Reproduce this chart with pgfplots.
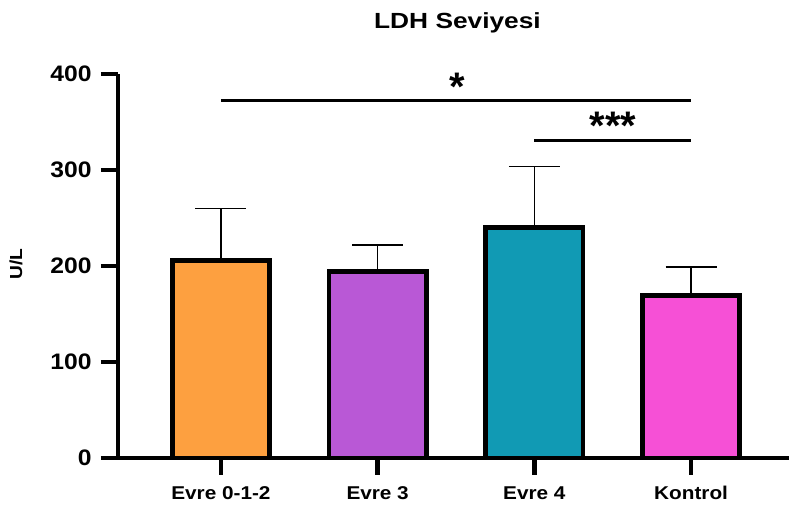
\documentclass[border=0pt]{standalone}
\usepackage{fontspec}
\setmainfont{Liberation Sans}
\newfontfamily\widefont{Liberation Sans}[FakeStretch=1.1]
\newfontfamily\titlefont{Liberation Sans}[FakeStretch=1.2]
\newfontfamily\ylabfont{Liberation Sans}[FakeStretch=1.1]
\newfontfamily\labfont{Liberation Sans}[FakeStretch=1.12]
\usepackage{pgfplots}
\pgfplotsset{compat=1.18}
\definecolor{cOrange}{RGB}{253,160,64}
\definecolor{cPurple}{RGB}{185,88,214}
\definecolor{cTeal}{RGB}{17,154,180}
\definecolor{cPink}{RGB}{246,80,214}
\begin{document}
\begin{tikzpicture}[x=1bp,y=1bp]
\useasboundingbox (-118,-53) rectangle (671,458);
\begin{axis}[
  at={(0,0)}, anchor=south west,
  scale only axis, width=671bp, height=384bp,
  xmin=-0.657, xmax=3.625, ymin=0, ymax=400,
  axis x line*=bottom, axis y line*=left,
  axis line style={line width=4bp, black},
  ytick={0,100,200,300,400},
  xtick={0,1,2,3},
  xticklabels={Evre 0-1-2, Evre 3, Evre 4, Kontrol},
  tick align=outside,
  major tick length=17bp,
  tick style={line width=4.5bp, black},
  /pgf/number format/assume math mode=true,
  yticklabel style={font=\widefont\fontsize{22.5}{22.5}\selectfont\bfseries, xshift=-6bp},
  xticklabel style={font=\labfont\fontsize{18.6}{18.6}\selectfont\bfseries, yshift=-8bp},
  ybar, bar width=97.3bp,
  every axis plot/.append style={bar shift=0pt, draw=black, line width=4.7bp},
  error bars/y dir=plus, error bars/y explicit,
  error bars/error bar style={line width=1.5bp, black},
  error bars/error mark options={rotate=90, line width=1.5bp, mark size=25.5bp, black},
]
\addplot[fill=cOrange] coordinates {(0,206) +- (0,54)};
\addplot[fill=cPurple] coordinates {(1,194) +- (0,28)};
\addplot[fill=cTeal] coordinates {(2,240) +- (0,63.5)};
\addplot[fill=cPink] coordinates {(3,169) +- (0,30)};
\draw[line width=3bp] (axis cs:0,372) -- (axis cs:3,372);
\draw[line width=3bp] (axis cs:2,330.5) -- (axis cs:3,330.5);
\end{axis}
\node[font=\fontsize{40}{40}\selectfont\bfseries, anchor=base, inner sep=0] at (339,357) {*};
\node[font=\fontsize{40}{40}\selectfont\bfseries, anchor=base, inner sep=0] at (495,318) {***};
\node[font=\titlefont\fontsize{22}{22}\selectfont\bfseries, anchor=base, inner sep=0] at (339.5,429.3) {LDH Seviyesi};
\node[font=\ylabfont\fontsize{17.5}{17.5}\selectfont\bfseries, rotate=90, inner sep=0] at (-102,194) {U/L};
\end{tikzpicture}
\end{document}
